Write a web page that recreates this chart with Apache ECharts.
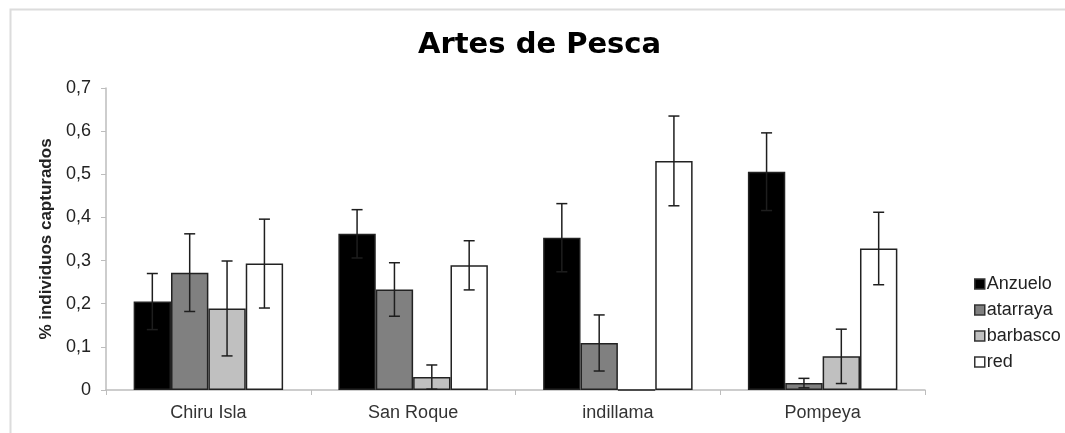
<!DOCTYPE html>
<html>
<head>
<meta charset="utf-8">
<script src="https://cdn.jsdelivr.net/npm/echarts@6/dist/echarts.min.js"></script>
<style>
  html, body { margin: 0; padding: 0; background: #fff; }
  #chart { width: 1065px; height: 433px; }
</style>
</head>
<body>
<div id="chart"></div>
<script>
// data
var categories = ['Chiru Isla', 'San Roque', 'indillama', 'Pompeya'];
var seriesNames = ['Anzuelo', 'atarraya', 'barbasco', 'red'];
var anzuelo = [0.205, 0.362, 0.353, 0.506];
var atarraya = [0.272, 0.233, 0.109, 0.016];
var barbasco = [0.189, 0.03, 0, 0.078];
var red = [0.293, 0.289, 0.531, 0.328];
// half length of the error bars
var anzueloErr = [0.065, 0.056, 0.079, 0.09];
var atarrayaErr = [0.09, 0.062, 0.065, 0.011];
var barbascoErr = [0.11, 0.028, 0, 0.063];
var redErr = [0.103, 0.057, 0.104, 0.084];
var yTicks = ['0', '0,1', '0,2', '0,3', '0,4', '0,5', '0,6', '0,7'];

var values = [anzuelo, atarraya, barbasco, red];
var errors = [anzueloErr, atarrayaErr, barbascoErr, redErr];
var fills = ['#000000', '#808080', '#c0c0c0', '#ffffff'];
var gapRatio = 0.27;

var chartDom = document.getElementById('chart');
var myChart = echarts.init(chartDom);
var option;

var series = [];
values.forEach(function (vals, i) {
  series.push({
    name: seriesNames[i],
    type: 'bar',
    data: vals,
    barGap: '0%',
    barCategoryGap: (gapRatio * 100) + '%',
    itemStyle: { color: fills[i], borderColor: '#222', borderWidth: 1.5 }
  });
});

// error bars, one custom series per bar series
values.forEach(function (vals, i) {
  series.push({
    type: 'custom',
    name: seriesNames[i] + ' err',
    z: 5,
    data: vals.map(function (v, k) { return [k, v, errors[i][k]]; }),
    renderItem: function (params, api) {
      var k = api.value(0), v = api.value(1), e = api.value(2);
      if (e === 0) return;
      var catW = api.size([1, 0])[0];
      var barW = catW * (1 - gapRatio) / 4;
      var center = api.coord([k, v]);
      var x = center[0] + (i - 1.5) * barW;
      var top = api.coord([k, v + e])[1];
      var bot = api.coord([k, Math.max(v - e, 0)])[1];
      var cap = 5.5;
      var st = { stroke: '#1e1e1e', lineWidth: 1.5 };
      return {
        type: 'group',
        children: [
          { type: 'line', shape: { x1: x, y1: top, x2: x, y2: bot }, style: st },
          { type: 'line', shape: { x1: x - cap, y1: top, x2: x + cap, y2: top }, style: st },
          { type: 'line', shape: { x1: x - cap, y1: bot, x2: x + cap, y2: bot }, style: st }
        ]
      };
    }
  });
});

option = {
  animation: false,
  backgroundColor: '#fff',
  graphic: [{
    type: 'rect',
    left: 8, top: 7,
    shape: { width: 1100, height: 500 },
    style: { fill: 'none', stroke: '#dcdcdc', lineWidth: 2 },
    silent: true
  }],
  title: {
    text: 'Artes de Pesca',
    left: 413,
    top: 26,
    textStyle: { fontFamily: 'DejaVu Sans', fontWeight: 'bold', fontSize: 29, color: '#000' }
  },
  legend: {
    orient: 'vertical',
    left: 969,
    top: 270,
    itemWidth: 10,
    itemHeight: 10,
    itemGap: 8,
    icon: 'rect',
    data: seriesNames.map(function (n, i) {
      return { name: n, itemStyle: { color: fills[i], borderColor: '#333', borderWidth: 1.5 } };
    }),
    textStyle: { fontFamily: 'Liberation Sans', fontSize: 18, color: '#222', padding: [0, 0, 0, -3] }
  },
  grid: { left: 106, right: 140, top: 88, bottom: 43 },
  xAxis: {
    type: 'category',
    data: categories,
    axisLine: { lineStyle: { color: '#bdbdbd', width: 1.5 } },
    axisTick: { show: true, length: 5, lineStyle: { color: '#bdbdbd' } },
    axisLabel: { fontFamily: 'Liberation Sans', fontSize: 18, color: '#333', margin: 14 }
  },
  yAxis: {
    type: 'value',
    min: 0,
    max: 0.7,
    interval: 0.1,
    name: '% individuos capturados',
    nameLocation: 'middle',
    nameRotate: 90,
    nameGap: 48,
    nameTextStyle: { fontFamily: 'Liberation Sans', fontWeight: 'bold', fontSize: 17, color: '#222' },
    axisLine: { show: true, lineStyle: { color: '#bdbdbd', width: 1.5 } },
    axisTick: { show: true, length: 5, lineStyle: { color: '#bdbdbd' } },
    splitLine: { show: false },
    axisLabel: {
      fontFamily: 'Liberation Sans', fontSize: 18, color: '#222', margin: 15,
      formatter: function (v) { return yTicks[Math.round(v * 10)]; }
    }
  },
  series: series
};

if (option && typeof option === 'object') {
  myChart.setOption(option);
}
</script>
</body>
</html>
